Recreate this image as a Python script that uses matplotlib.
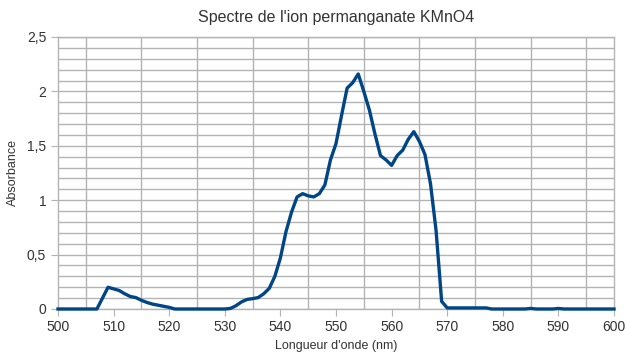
import matplotlib
matplotlib.use("Agg")
import matplotlib.pyplot as plt
from matplotlib.ticker import MultipleLocator, FixedLocator, FuncFormatter

plt.rcParams['font.family'] = ['Liberation Sans', 'DejaVu Sans']

wavelength = list(range(500, 601))
absorbance = [
    0, 0, 0, 0, 0, 0, 0, 0, 0.10, 0.20,            # 500-509
    0.185, 0.17, 0.14, 0.115, 0.105, 0.08, 0.06, 0.045, 0.035, 0.025,  # 510-519
    0.015, 0.0, 0.0, 0.0, 0.0, 0.0, 0.0, 0.0, 0.0, 0.0,  # 520-529
    0.0, 0.005, 0.03, 0.065, 0.088, 0.095, 0.105, 0.14, 0.19, 0.30,  # 530-539
    0.47, 0.71, 0.89, 1.03, 1.06, 1.04, 1.03, 1.06, 1.14, 1.37,  # 540-549
    1.52, 1.78, 2.03, 2.08, 2.16, 2.0, 1.83, 1.61, 1.41, 1.37,  # 550-559
    1.32, 1.41, 1.46, 1.56, 1.63, 1.54, 1.42, 1.15, 0.72, 0.07,  # 560-569
    0.01, 0.01, 0.01, 0.01, 0.01, 0.01, 0.01, 0.01, 0.0, 0.0,  # 570-579
    0.0, 0.0, 0.0, 0.0, 0.0, 0.005, 0.0, 0.0, 0.0, 0.0,  # 580-589
    0.005, 0.0, 0.0, 0.0, 0.0, 0.0, 0.0, 0.0, 0.0, 0.0,  # 590-599
    0.0,  # 600
]

title = "Spectre de l'ion permanganate KMnO4"
xlabel = "Longueur d'onde (nm)"
ylabel = "Absorbance"

fig = plt.figure(figsize=(6.25, 3.54), dpi=100)
ax = fig.add_axes([58/625, 1-309/354, (614-58)/625, (309-37)/354])

grid_c = '#b3b3b3'
ax.plot(wavelength, absorbance, color='#004586', lw=2.4, solid_joinstyle='round', zorder=3, clip_on=False)

ax.set_xlim(500, 600)
ax.set_ylim(0, 2.5)
ax.xaxis.set_major_locator(MultipleLocator(10))
ax.xaxis.set_minor_locator(FixedLocator(list(range(505, 600, 10))))
ax.yaxis.set_major_locator(MultipleLocator(0.5))
ax.yaxis.set_minor_locator(MultipleLocator(0.1))
ax.yaxis.set_major_formatter(FuncFormatter(lambda v, p: ('%g' % v).replace('.', ',')))

ax.grid(False)
ax.grid(True, axis='x', which='minor', color=grid_c, lw=1)
ax.grid(True, axis='y', which='both', color=grid_c, lw=1)
ax.set_axisbelow(True)

for s in ax.spines.values():
    s.set_color(grid_c)
    s.set_linewidth(1)

ax.tick_params(axis='both', which='major', length=5, color=grid_c, labelsize=10, labelcolor='#333333')
ax.tick_params(axis='x', which='minor', length=0)
ax.tick_params(axis='y', which='minor', length=0)
ax.tick_params(axis='x', pad=3)

ax.set_title(title, fontsize=11.5, color='#333333', pad=11)
ax.set_xlabel(xlabel, fontsize=9, color='#333333', labelpad=4)
ax.set_ylabel(ylabel, fontsize=9, color='#333333')
ax.yaxis.set_label_coords(-39/556, 0.5)

fig.savefig('out.png', dpi=100)
